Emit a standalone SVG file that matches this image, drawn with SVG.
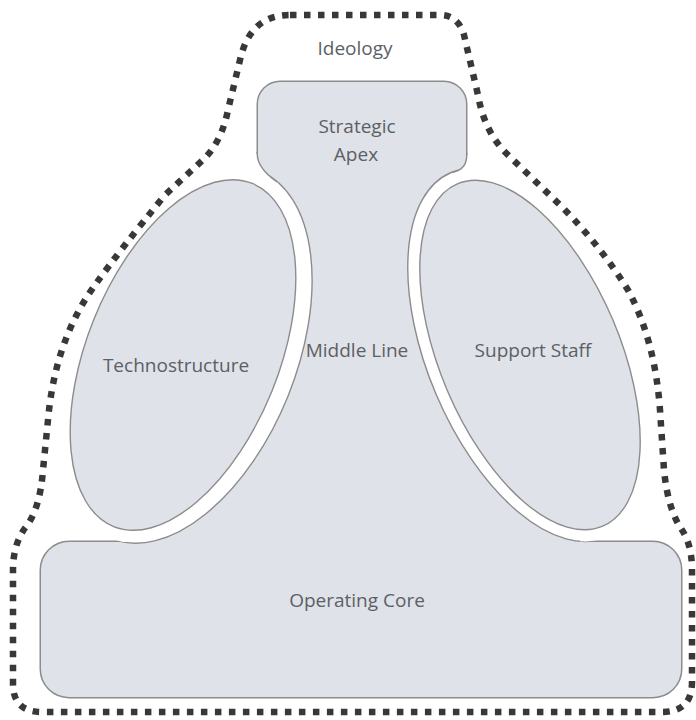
<svg xmlns="http://www.w3.org/2000/svg" width="696" height="720" viewBox="0 0 696 720">
<defs>
<style>
.lbl{font-family:"Open Sans","Noto Sans","Liberation Sans",sans-serif;font-size:19px;fill:#5c5f66;text-anchor:middle}
.part{fill:#dfe2e8}
.edge{fill:none;stroke:#8c8c8c;stroke-width:3}
.cutline{fill:none;stroke:#8c8c8c;stroke-width:1.4}
.oval{fill:#dfe2e8;stroke:#8c8c8c;stroke-width:1.4}
.dots{fill:none;stroke:#383838;stroke-width:6.5;stroke-dasharray:6.5 7.5}
.gap{fill:#fff}
</style>
<mask id="bodyMask" maskUnits="userSpaceOnUse" x="0" y="0" width="696" height="720">
<rect x="0" y="0" width="696" height="720" fill="#fff"/>
<ellipse cx="186" cy="355" rx="110" ry="198" transform="rotate(22 186 355)" fill="#000"/>
<ellipse cx="528" cy="355" rx="100" ry="198" transform="rotate(-23 528 355)" fill="#000"/>
</mask>
<clipPath id="bodyClip">
<rect x="258" y="82" width="208" height="120" rx="22"/>
<polygon points="275,150 250,200 140,510 140,560 580,560 580,510 466,200 445,150"/>
<rect x="41" y="542" width="640" height="155" rx="28"/>
</clipPath>
</defs>
<rect width="696" height="720" fill="#fff"/>
<g id="ideology">
<path class="dots" d="M 290 15 L 440 15 Q 458 15 464 35 L 478 95 Q 484 130 505 152 L 560 205 Q 600 245 628 290 Q 655 340 660 410 L 664 470 Q 668 510 682 530 Q 692 545 692 570 L 692 682 Q 692 712 662 712 L 42 712 Q 13 712 13 684 L 13 570 Q 13 545 25 528 Q 40 510 43 470 L 48 420 Q 55 340 95 285 Q 120 250 165 195 L 205 158 Q 222 140 228 110 L 240 60 Q 250 15 290 15 Z"/>
<text class="lbl" x="355" y="55">Ideology</text>
</g>
<g id="middle-line">
<g mask="url(#bodyMask)">
<rect class="edge" x="258" y="82" width="208" height="120" rx="22"/>
<rect class="edge" x="41" y="542" width="640" height="155" rx="28"/>
<rect class="part" x="258" y="82" width="208" height="120" rx="22"/>
<polygon class="part" points="275,150 250,200 140,510 140,560 580,560 580,510 466,200 445,150"/>
<rect class="part" x="41" y="542" width="640" height="155" rx="28"/>
</g>
<g clip-path="url(#bodyClip)">
<ellipse class="cutline" cx="186" cy="355" rx="110" ry="198" transform="rotate(22 186 355)"/>
<ellipse class="cutline" cx="528" cy="355" rx="100" ry="198" transform="rotate(-23 528 355)"/>
</g>
<path class="gap" d="M 254 154 L 257.25 154 Q 257.25 168 277 182 L 280 192 L 254 192 Z"/>
<path class="cutline" d="M 257.25 152 L 257.25 154 Q 257.25 168 277 182"/>
<path class="gap" d="M 470 155 L 466.75 155 Q 466.75 170 452 172.5 L 450 182 L 470 182 Z"/>
<path class="cutline" d="M 466.75 153 L 466.75 155 Q 466.75 170 452 172.5"/>
<text class="lbl" x="357" y="357">Middle Line</text>
</g>
<g id="strategic-apex">
<text class="lbl" x="357" y="133">Strategic</text>
<text class="lbl" x="356" y="161">Apex</text>
</g>
<g id="operating-core">
<text class="lbl" x="357" y="607">Operating Core</text>
</g>
<g id="technostructure">
<ellipse class="oval" cx="183" cy="355" rx="96" ry="185" transform="rotate(22 183 355)"/>
<text class="lbl" x="176" y="372">Technostructure</text>
</g>
<g id="support-staff">
<ellipse class="oval" cx="530" cy="355" rx="90" ry="186" transform="rotate(-23 530 355)"/>
<text class="lbl" x="533" y="357">Support Staff</text>
</g>
<g id="connectors"></g>
</svg>
